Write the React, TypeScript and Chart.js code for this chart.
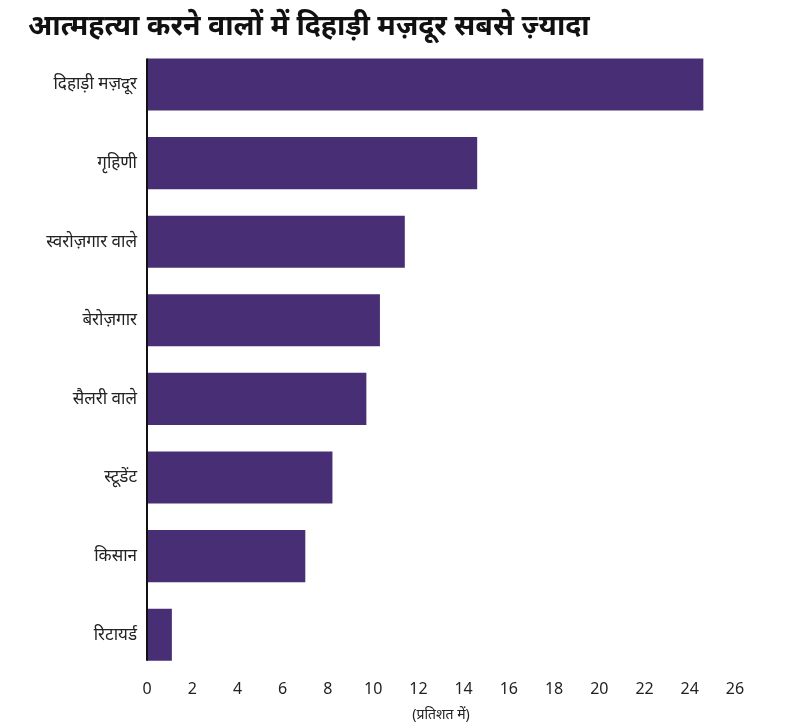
import React, { useEffect, useRef } from "react";
import { Chart, registerables } from "chart.js";

Chart.register(...registerables);

const categories = [
  "दिहाड़ी मज़दूर",
  "गृहिणी",
  "स्वरोज़गार वाले",
  "बेरोज़गार",
  "सैलरी वाले",
  "स्टूडेंट",
  "किसान",
  "रिटायर्ड",
];
const values = [24.6, 14.6, 11.4, 10.3, 9.7, 8.2, 7.0, 1.1];
const xTicks = [0, 2, 4, 6, 8, 10, 12, 14, 16, 18, 20, 22, 24, 26];
const titleText = "आत्महत्या करने वालों में दिहाड़ी मज़दूर सबसे ज़्यादा";
const xTitle = "(प्रतिशत में)";

const FONT = "'Noto Sans', 'Noto Sans Devanagari', 'Lohit Devanagari', sans-serif";

const axisLinePlugin = {
  id: "axisLine",
  afterDatasetsDraw(chart: any) {
    const meta = chart.getDatasetMeta(0);
    const first = meta.data[0];
    const last = meta.data[meta.data.length - 1];
    const x = chart.scales.x.getPixelForValue(0);
    const top = first.y - first.height / 2;
    const bottom = last.y + last.height / 2;
    const ctx = chart.ctx;
    ctx.save();
    ctx.strokeStyle = "#111";
    ctx.lineWidth = 2;
    ctx.beginPath();
    ctx.moveTo(x, top);
    ctx.lineTo(x, bottom);
    ctx.stroke();
    ctx.restore();
  },
};

export default function App() {
  const ref = useRef<HTMLCanvasElement>(null);
  useEffect(() => {
    document.body.style.margin = "0";
    const chart = new Chart(ref.current!, {
      type: "bar",
      data: {
        labels: categories,
        datasets: [
          {
            data: values,
            backgroundColor: "#482e75",
            borderWidth: 0,
            barPercentage: 0.663,
            categoryPercentage: 1,
          },
        ],
      },
      options: {
        indexAxis: "y",
        animation: false,
        responsive: false,
        maintainAspectRatio: false,
        layout: { padding: { left: 28, right: 65, top: 10, bottom: 0 } },
        plugins: {
          legend: { display: false },
          tooltip: { enabled: false },
          title: {
            display: true,
            text: titleText,
            align: "start",
            color: "#111",
            font: { family: FONT, size: 28.5, weight: "bold" },
            padding: { top: 0, bottom: 1 },
          },
        },
        scales: {
          x: {
            type: "linear",
            min: 0,
            max: 26,
            afterBuildTicks(scale: any) {
              scale.ticks = xTicks.map((v) => ({ value: v }));
            },
            afterFit(scale: any) {
              scale.height = 54;
            },
            grid: { display: false, drawTicks: false },
            border: { display: false },
            ticks: {
              color: "#222",
              padding: 6,
              font: { family: FONT, size: 16 },
              maxRotation: 0,
              autoSkip: false,
            },
            title: {
              display: true,
              text: xTitle,
              color: "#222",
              font: { family: FONT, size: 14 },
              padding: { top: 0, bottom: 5 },
            },
          },
          y: {
            afterFit(scale: any) {
              scale.width = 119;
            },
            grid: { display: false, drawTicks: false },
            border: { display: false },
            ticks: {
              color: "#222",
              padding: 10,
              font: { family: FONT, size: 17 },
              autoSkip: false,
            },
          },
        },
      },
      plugins: [axisLinePlugin],
    });
    return () => chart.destroy();
  }, []);
  return (
    <div style={{ position: "fixed", left: 0, top: 0, width: 800, height: 728, background: "#fff" }}>
      <canvas ref={ref} width={800} height={728} style={{ width: 800, height: 728 }} />
    </div>
  );
}
